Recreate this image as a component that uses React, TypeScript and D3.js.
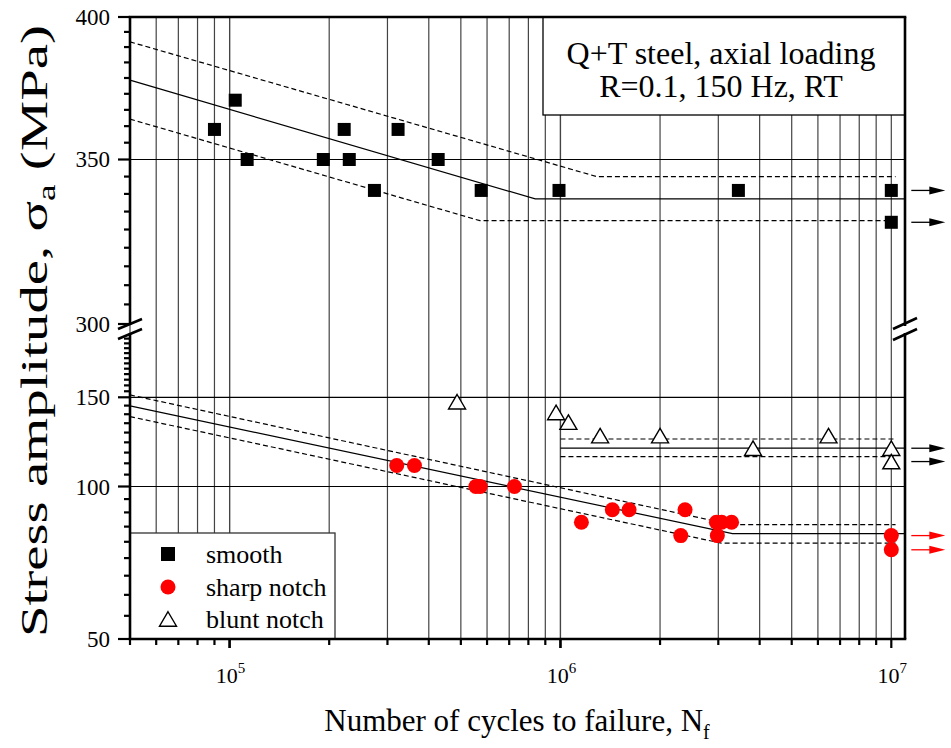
import React from "react";
import * as d3 from "d3";

// ---------- data ----------
const smoothN = [9.0e4, 1.04e5, 1.13e5, 1.92e5, 2.22e5, 2.3e5, 2.74e5, 3.23e5, 4.27e5, 5.76e5, 9.9e5, 3.45e6, 1e7, 1e7];
const smoothS = [360, 370, 350, 350, 360, 350, 340, 360, 350, 340, 340, 340, 340, 330];

const sharpN = [3.2e5, 3.62e5, 5.55e5, 5.72e5, 7.26e5, 1.157e6, 1.435e6, 1.612e6, 2.31e6, 2.38e6, 2.96e6, 2.98e6, 3.07e6, 3.29e6, 1e7, 1e7];
const sharpS = [110, 110, 100, 100, 100, 85, 90, 90, 80, 90, 85, 80, 85, 85, 80, 75];

const bluntN = [4.87e5, 9.7e5, 1.057e6, 1.318e6, 2.0e6, 3.82e6, 6.46e6, 1e7, 1e7];
const bluntS = [147, 140, 134, 126, 126, 119, 126, 119, 112];

// fitted curves (N, S)
const smoothFitN = [5e4, 8.39e5, 1.1e7];
const smoothFitS = [377, 337.3, 337.3];
const smoothUpN = [5e4, 1.29e6, 1.03e7];
const smoothUpS = [390.8, 344.4, 344.4];
const smoothLoN = [5e4, 5.71e5, 1.03e7];
const smoothLoS = [363.5, 330.5, 330.5];

const sharpFitN = [5e4, 3.31e6, 1.1e7];
const sharpFitS = [144.3, 80.7, 80.7];
const sharpUpN = [5e4, 3.285e6, 1.03e7];
const sharpUpS = [151.6, 84.1, 84.1];
const sharpLoN = [5e4, 3.065e6, 1.03e7];
const sharpLoS = [137.4, 77.3, 77.3];

const bluntFitN = [1e6, 1.1e7];
const bluntFitS = [119.1, 119.1];
const bluntUpN = [1e6, 1.03e7];
const bluntUpS = [124.1, 124.1];
const bluntLoN = [1e6, 1.03e7];
const bluntLoS = [114.5, 114.5];

// run-outs (arrows)
const runoutUpper = [340, 330];
const runoutBlunt = [119, 112];
const runoutSharp = [80, 75];

const upperTicks = [300, 350, 400];
const lowerTicks = [50, 100, 150];
const xMajor = [1e5, 1e6, 1e7];
const xExp = ["5", "6", "7"];
const upperGrid = [350];
const lowerGrid = [100, 150];

const legendLabels = ["smooth", "sharp notch", "blunt notch"];
const boxLines = ["Q+T steel, axial loading", "R=0.1, 150 Hz, RT"];

// ---------- layout ----------
const L = 130, R = 905, T = 17, B = 639;
const UP_BOT = 324, LO_TOP = 334;
const FONT = "'Liberation Serif', 'Times New Roman', serif";

const x = d3.scaleLog().domain([5e4, 1.1e7]).range([L, R]);
const yUp = d3.scaleLog().domain([300, 400]).range([UP_BOT, T]);
const yLo = d3.scaleLog().domain([50, 200]).range([B, LO_TOP]);

function minorBetween(a: number, b: number, n: number) {
  const out: number[] = [];
  for (let k = 1; k <= n; k++) out.push(a + (k * (b - a)) / (n + 1));
  return out;
}

const upperMinor = [...minorBetween(300, 350, 8), ...minorBetween(350, 400, 8)];
const lowerMinor = [...minorBetween(50, 100, 8), ...minorBetween(100, 150, 8), ...minorBetween(150, 200, 11)];

const xMinor: number[] = [];
[1e4, 1e5, 1e6].forEach((dec) => {
  for (let m = 1; m <= 10; m++) {
    const v = m * dec;
    if (v >= 5e4 && v <= 1.1e7) xMinor.push(v);
  }
});

const line = (ys: any) => d3.line<[number, number]>().x((d) => x(d[0])).y((d) => ys(d[1]));
const pts = (ns: number[], ss: number[]) => ns.map((n, i) => [n, ss[i]] as [number, number]);

const triPath = (cx: number, cy: number, w = 17, h = 14.5) =>
  `M${cx},${cy - h / 2}L${cx + w / 2},${cy + h / 2}L${cx - w / 2},${cy + h / 2}Z`;

function Arrow({ y, color }: { y: number; color: string }) {
  const x0 = x(1e7) + 20;
  return (
    <g>
      <line x1={x0} x2={x0 + 20} y1={y} y2={y} stroke={color} strokeWidth={1.3} />
      <path d={`M${x0 + 18},${y - 4}L${x0 + 34},${y}L${x0 + 18},${y + 4}Z`} fill={color} />
    </g>
  );
}

export default function App() {
  const dash = "5,3";
  return (
    <svg width={951} height={748} style={{ position: "absolute", left: 0, top: 0, background: "#fff" }} fontFamily={FONT}>
      <rect x={0} y={0} width={951} height={748} fill="#fff" />
      {/* vertical grid */}
      {xMinor.map((v, i) => (
        <line key={"vg" + i} x1={x(v)} x2={x(v)} y1={T} y2={B} stroke="#444" strokeWidth={1.2} />
      ))}
      {/* horizontal grid */}
      {upperGrid.map((v) => (
        <line key={"hu" + v} x1={L} x2={R} y1={yUp(v)} y2={yUp(v)} stroke="#000" strokeWidth={1.2} />
      ))}
      {lowerGrid.map((v) => (
        <line key={"hl" + v} x1={L} x2={R} y1={yLo(v)} y2={yLo(v)} stroke="#000" strokeWidth={1.2} />
      ))}

      {/* fit lines */}
      <g fill="none" stroke="#000" strokeWidth={1.2}>
        <path d={line(yUp)(pts(smoothFitN, smoothFitS)) || ""} />
        <path d={line(yUp)(pts(smoothUpN, smoothUpS)) || ""} strokeDasharray={dash} />
        <path d={line(yUp)(pts(smoothLoN, smoothLoS)) || ""} strokeDasharray={dash} />
        <path d={line(yLo)(pts(sharpFitN, sharpFitS)) || ""} />
        <path d={line(yLo)(pts(sharpUpN, sharpUpS)) || ""} strokeDasharray={dash} />
        <path d={line(yLo)(pts(sharpLoN, sharpLoS)) || ""} strokeDasharray={dash} />
        <path d={line(yLo)(pts(bluntFitN, bluntFitS)) || ""} />
        <path d={line(yLo)(pts(bluntUpN, bluntUpS)) || ""} strokeDasharray={dash} />
        <path d={line(yLo)(pts(bluntLoN, bluntLoS)) || ""} strokeDasharray={dash} />
      </g>

      {/* markers */}
      {smoothN.map((n, i) => (
        <rect key={"s" + i} x={x(n) - 6.5} y={yUp(smoothS[i]) - 6.5} width={13} height={13} fill="#000" />
      ))}
      {sharpN.map((n, i) => (
        <circle key={"c" + i} cx={x(n)} cy={yLo(sharpS[i])} r={7.5} fill="#ff0000" />
      ))}
      {bluntN.map((n, i) => (
        <path key={"t" + i} d={triPath(x(n), yLo(bluntS[i]))} fill="#fff" stroke="#000" strokeWidth={1.4} />
      ))}

      {/* arrows */}
      {runoutUpper.map((v, i) => <Arrow key={"au" + i} y={yUp(v)} color="#000" />)}
      {runoutBlunt.map((v, i) => <Arrow key={"ab" + i} y={yLo(v)} color="#000" />)}
      {runoutSharp.map((v, i) => <Arrow key={"as" + i} y={yLo(v)} color="#ff0000" />)}

      {/* annotation box */}
      <rect x={543} y={T} width={R - 543} height={98} fill="#fff" stroke="#000" strokeWidth={1.3} />
      {boxLines.map((t, i) => (
        <text key={"b" + i} x={(543 + R) / 2 - 3} y={64 + i * 33} fontSize={32} textAnchor="middle" fill="#000">
          {t}
        </text>
      ))}

      {/* legend */}
      <rect x={L} y={533} width={205} height={B - 533} fill="#fff" stroke="#333" strokeWidth={1.3} />
      <rect x={168 - 7} y={554 - 7} width={14} height={14} fill="#000" />
      <circle cx={168} cy={587} r={7.5} fill="#ff0000" />
      <path d={triPath(168, 619, 17, 14.5)} fill="#fff" stroke="#000" strokeWidth={1.4} />
      {legendLabels.map((t, i) => (
        <text key={"l" + i} x={206} y={563 + i * 32.5} fontSize={26} fill="#000">
          {t}
        </text>
      ))}

      {/* axes frame */}
      <g stroke="#000" strokeWidth={2.6} fill="none">
        <line x1={L - 1.3} x2={R + 1.3} y1={T} y2={T} />
        <line x1={L - 1.3} x2={R + 1.3} y1={B} y2={B} />
        <line x1={L} x2={L} y1={T} y2={UP_BOT + 1} />
        <line x1={L} x2={L} y1={LO_TOP - 1} y2={B} />
        <line x1={R} x2={R} y1={T} y2={UP_BOT + 2} />
        <line x1={R} x2={R} y1={LO_TOP - 1} y2={B} />
      </g>
      {/* break marks */}
      <g stroke="#000" strokeWidth={2.6}>
        <line x1={L - 12} y1={329} x2={L + 12} y2={319} />
        <line x1={L - 12} y1={339} x2={L + 12} y2={329} />
        <line x1={R - 12} y1={329} x2={R + 12} y2={318} />
        <line x1={R - 12} y1={340} x2={R + 12} y2={329} />
      </g>

      {/* ticks */}
      <g stroke="#000" strokeWidth={2.2}>
        {upperTicks.map((v) => (
          <line key={"ut" + v} x1={L - 12} x2={L} y1={yUp(v)} y2={yUp(v)} />
        ))}
        {lowerTicks.map((v) => (
          <line key={"lt" + v} x1={L - 12} x2={L} y1={yLo(v)} y2={yLo(v)} />
        ))}
        {upperMinor.map((v, i) => (
          <line key={"um" + i} x1={L - 6} x2={L} y1={yUp(v)} y2={yUp(v)} />
        ))}
        {lowerMinor.map((v, i) => (
          <line key={"lm" + i} x1={L - 6} x2={L} y1={yLo(v)} y2={yLo(v)} />
        ))}
        {xMinor.map((v, i) => (
          <line key={"xt" + i} x1={x(v)} x2={x(v)} y1={B} y2={B + (xMajor.includes(v) ? 9 : 6)} />
        ))}
      </g>
      {upperTicks.map((v) => (
        <text key={"utl" + v} x={110} y={yUp(v) + 8} fontSize={23} textAnchor="end">
          {v}
        </text>
      ))}
      {lowerTicks.map((v) => (
        <text key={"ltl" + v} x={110} y={yLo(v) + 8} fontSize={23} textAnchor="end">
          {v}
        </text>
      ))}
      {xMajor.map((v, i) => (
        <text key={"xl" + i} x={x(v) + 1} y={683} fontSize={22} textAnchor="middle">
          <tspan>10</tspan>
          <tspan dy={-10} fontSize={15}>
            {xExp[i]}
          </tspan>
        </text>
      ))}

      {/* axis titles */}
      <text x={517} y={731} fontSize={31} textAnchor="middle">
        Number of cycles to failure, N<tspan dy={8} fontSize={20}>f</tspan>
      </text>
      <text
        transform="translate(47,331) rotate(-90)"
        fontSize={38}
        textAnchor="middle"
        textLength={612}
        lengthAdjust="spacingAndGlyphs"
      >
        Stress amplitude, σ<tspan dy={8} fontSize={25}>a</tspan>
        <tspan dy={-8}> (MPa)</tspan>
      </text>
    </svg>
  );
}
